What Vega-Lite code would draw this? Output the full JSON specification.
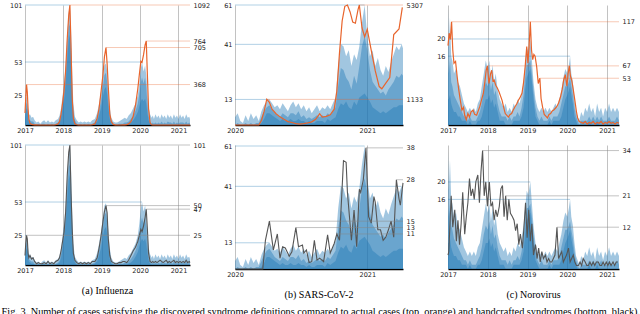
{
"$schema":"https://vega.github.io/schema/vega-lite/v6.json",
"padding":{"left":1,"top":2,"right":0,"bottom":0},
"config":{"view":{"stroke":null},
 "axis":{"labelFont":"DejaVu Sans","labelFontSize":6.5,"labelColor":"#222","ticks":false,"labelOverlap":false,"labelFlush":false,"domain":false,"grid":false},
 "axisX":{"domain":true,"domainColor":"#000","domainWidth":1.5,"grid":true,"gridColor":"#999","gridOpacity":0.6,"gridWidth":1,"labelPadding":2},
 "axisY":{"labelPadding":3}},
"datasets":{
"flu":[
{"t":2017.00,"s1":10,"s2":6,"s3":4,"a":110,"h":8},{"t":2017.02,"s1":18,"s2":14,"s3":10,"a":250,"h":18},{"t":2017.04,"s1":25,"s2":19,"s3":14,"a":368,"h":25},{"t":2017.06,"s1":21,"s2":17,"s3":13,"a":300,"h":22},{"t":2017.08,"s1":14,"s2":10,"s3":7,"a":150,"h":10},{"t":2017.10,"s1":8,"s2":5,"s3":3,"a":50,"h":6},{"t":2017.13,"s1":9,"s2":4,"s3":2,"a":15,"h":8},{"t":2017.17,"s1":6,"s2":3,"s3":1,"a":5,"h":5},{"t":2017.21,"s1":7,"s2":3,"s3":1,"a":3,"h":6},{"t":2017.25,"s1":4,"s2":1,"s3":0,"a":2,"h":3},{"t":2017.30,"s1":2,"s2":0,"s3":0,"a":1,"h":1},{"t":2017.35,"s1":3,"s2":1,"s3":0,"a":0,"h":2},{"t":2017.40,"s1":1,"s2":0,"s3":0,"a":0,"h":1},{"t":2017.45,"s1":3,"s2":1,"s3":0,"a":0,"h":1},{"t":2017.50,"s1":4,"s2":1,"s3":0,"a":0,"h":2},{"t":2017.55,"s1":2,"s2":0,"s3":0,"a":0,"h":1},{"t":2017.60,"s1":4,"s2":1,"s3":0,"a":0,"h":3},{"t":2017.65,"s1":2,"s2":0,"s3":0,"a":0,"h":1},{"t":2017.70,"s1":3,"s2":1,"s3":0,"a":0,"h":2},{"t":2017.75,"s1":2,"s2":0,"s3":0,"a":0,"h":1},{"t":2017.80,"s1":4,"s2":1,"s3":0,"a":2,"h":3},{"t":2017.86,"s1":5,"s2":2,"s3":1,"a":10,"h":4},{"t":2017.90,"s1":8,"s2":4,"s3":2,"a":30,"h":6},{"t":2017.94,"s1":14,"s2":9,"s3":6,"a":100,"h":12},{"t":2017.98,"s1":25,"s2":18,"s3":14,"a":200,"h":20},{"t":2018.02,"s1":35,"s2":28,"s3":22,"a":320,"h":28},{"t":2018.06,"s1":50,"s2":42,"s3":35,"a":500,"h":45},{"t":2018.10,"s1":75,"s2":65,"s3":55,"a":780,"h":75},{"t":2018.14,"s1":95,"s2":82,"s3":72,"a":1000,"h":95},{"t":2018.17,"s1":101,"s2":85,"s3":76,"a":1092,"h":101},{"t":2018.20,"s1":80,"s2":62,"s3":50,"a":700,"h":60},{"t":2018.23,"s1":45,"s2":32,"s3":24,"a":250,"h":30},{"t":2018.26,"s1":18,"s2":12,"s3":8,"a":60,"h":10},{"t":2018.30,"s1":7,"s2":4,"s3":2,"a":10,"h":4},{"t":2018.35,"s1":4,"s2":1,"s3":0,"a":2,"h":2},{"t":2018.40,"s1":2,"s2":0,"s3":0,"a":0,"h":1},{"t":2018.45,"s1":3,"s2":1,"s3":0,"a":0,"h":2},{"t":2018.50,"s1":2,"s2":0,"s3":0,"a":0,"h":1},{"t":2018.55,"s1":3,"s2":1,"s3":0,"a":0,"h":2},{"t":2018.60,"s1":2,"s2":0,"s3":0,"a":0,"h":1},{"t":2018.65,"s1":3,"s2":1,"s3":0,"a":0,"h":2},{"t":2018.70,"s1":2,"s2":0,"s3":0,"a":0,"h":1},{"t":2018.75,"s1":4,"s2":1,"s3":0,"a":2,"h":3},{"t":2018.82,"s1":5,"s2":2,"s3":1,"a":10,"h":3},{"t":2018.88,"s1":10,"s2":6,"s3":3,"a":60,"h":6},{"t":2018.93,"s1":18,"s2":12,"s3":8,"a":150,"h":14},{"t":2018.98,"s1":28,"s2":20,"s3":14,"a":300,"h":24},{"t":2019.03,"s1":40,"s2":32,"s3":24,"a":450,"h":36},{"t":2019.07,"s1":50,"s2":42,"s3":30,"a":620,"h":45},{"t":2019.11,"s1":52,"s2":44,"s3":32,"a":705,"h":50},{"t":2019.14,"s1":45,"s2":36,"s3":26,"a":560,"h":44},{"t":2019.17,"s1":30,"s2":22,"s3":15,"a":350,"h":22},{"t":2019.21,"s1":14,"s2":9,"s3":5,"a":100,"h":8},{"t":2019.25,"s1":6,"s2":3,"s3":1,"a":30,"h":3},{"t":2019.30,"s1":3,"s2":1,"s3":0,"a":5,"h":2},{"t":2019.35,"s1":2,"s2":0,"s3":0,"a":1,"h":1},{"t":2019.40,"s1":2,"s2":0,"s3":0,"a":0,"h":1},{"t":2019.45,"s1":3,"s2":1,"s3":0,"a":0,"h":2},{"t":2019.50,"s1":4,"s2":1,"s3":0,"a":0,"h":2},{"t":2019.55,"s1":5,"s2":1,"s3":0,"a":1,"h":3},{"t":2019.60,"s1":6,"s2":2,"s3":0,"a":2,"h":3},{"t":2019.65,"s1":5,"s2":2,"s3":0,"a":3,"h":2},{"t":2019.70,"s1":8,"s2":3,"s3":1,"a":10,"h":4},{"t":2019.76,"s1":10,"s2":5,"s3":2,"a":30,"h":8},{"t":2019.82,"s1":14,"s2":8,"s3":4,"a":80,"h":12},{"t":2019.88,"s1":18,"s2":12,"s3":7,"a":180,"h":15},{"t":2019.94,"s1":25,"s2":18,"s3":11,"a":330,"h":20},{"t":2019.98,"s1":35,"s2":26,"s3":16,"a":460,"h":25},{"t":2020.02,"s1":48,"s2":36,"s3":20,"a":580,"h":30},{"t":2020.05,"s1":53,"s2":40,"s3":22,"a":570,"h":28},{"t":2020.09,"s1":45,"s2":35,"s3":20,"a":640,"h":33},{"t":2020.13,"s1":50,"s2":40,"s3":22,"a":730,"h":40},{"t":2020.16,"s1":42,"s2":32,"s3":18,"a":764,"h":47},{"t":2020.19,"s1":28,"s2":18,"s3":10,"a":450,"h":30},{"t":2020.22,"s1":15,"s2":8,"s3":4,"a":150,"h":10},{"t":2020.26,"s1":9,"s2":3,"s3":1,"a":20,"h":3},{"t":2020.30,"s1":6,"s2":1,"s3":0,"a":2,"h":2},{"t":2020.33,"s1":8,"s2":2,"s3":0,"a":0,"h":3},{"t":2020.36,"s1":5,"s2":1,"s3":0,"a":0,"h":2},{"t":2020.40,"s1":9,"s2":2,"s3":0,"a":0,"h":3},{"t":2020.44,"s1":6,"s2":1,"s3":0,"a":0,"h":2},{"t":2020.48,"s1":8,"s2":2,"s3":0,"a":0,"h":3},{"t":2020.52,"s1":5,"s2":1,"s3":0,"a":0,"h":4},{"t":2020.56,"s1":9,"s2":3,"s3":0,"a":0,"h":3},{"t":2020.60,"s1":6,"s2":1,"s3":0,"a":0,"h":2},{"t":2020.64,"s1":8,"s2":2,"s3":0,"a":0,"h":3},{"t":2020.68,"s1":5,"s2":1,"s3":0,"a":0,"h":4},{"t":2020.72,"s1":9,"s2":3,"s3":0,"a":0,"h":2},{"t":2020.76,"s1":6,"s2":2,"s3":0,"a":0,"h":3},{"t":2020.80,"s1":8,"s2":2,"s3":0,"a":0,"h":2},{"t":2020.84,"s1":5,"s2":1,"s3":0,"a":0,"h":3},{"t":2020.88,"s1":9,"s2":3,"s3":0,"a":0,"h":4},{"t":2020.92,"s1":6,"s2":1,"s3":0,"a":0,"h":2},{"t":2020.96,"s1":8,"s2":2,"s3":0,"a":0,"h":3},{"t":2021.00,"s1":5,"s2":1,"s3":0,"a":0,"h":2},{"t":2021.04,"s1":9,"s2":2,"s3":0,"a":0,"h":3},{"t":2021.08,"s1":6,"s2":2,"s3":0,"a":0,"h":2},{"t":2021.12,"s1":8,"s2":2,"s3":0,"a":0,"h":3},{"t":2021.16,"s1":5,"s2":1,"s3":0,"a":0,"h":2},{"t":2021.20,"s1":9,"s2":3,"s3":0,"a":0,"h":4},{"t":2021.24,"s1":6,"s2":1,"s3":0,"a":0,"h":2},{"t":2021.28,"s1":7,"s2":2,"s3":0,"a":0,"h":3},{"t":2021.30,"s1":5,"s2":1,"s3":0,"a":0,"h":2}
],
"flu_rb":[{"v":101,"t":2017,"t2":2018.17},{"v":53,"t":2017,"t2":2020.05},{"v":25,"t":2017,"t2":2017.04}],
"flu_ro":[{"v":1092,"t":2018.17,"t2":2021.3},{"v":764,"t":2020.16,"t2":2021.3},{"v":705,"t":2019.11,"t2":2021.3},{"v":368,"t":2017.04,"t2":2021.3}],
"flu_rg":[{"v":101,"t":2018.17,"t2":2021.3},{"v":50,"t":2019.11,"t2":2021.3},{"v":47,"t":2020.16,"t2":2021.3},{"v":25,"t":2017.04,"t2":2021.3}],
"cov_s":[
{"t":2020.00,"s1":4,"s2":0,"s3":0},{"t":2020.02,"s1":6,"s2":1,"s3":0},{"t":2020.04,"s1":2,"s2":0,"s3":0},{"t":2020.06,"s1":1,"s2":0,"s3":0},{"t":2020.08,"s1":5,"s2":1,"s3":0},{"t":2020.10,"s1":2,"s2":0,"s3":0},{"t":2020.12,"s1":6,"s2":1,"s3":0},{"t":2020.14,"s1":3,"s2":0,"s3":0},{"t":2020.16,"s1":5,"s2":1,"s3":0},{"t":2020.18,"s1":2,"s2":1,"s3":0},{"t":2020.20,"s1":7,"s2":4,"s3":1},{"t":2020.22,"s1":10,"s2":7,"s3":3},{"t":2020.24,"s1":12,"s2":9,"s3":6},{"t":2020.26,"s1":13,"s2":10,"s3":6},{"t":2020.28,"s1":11,"s2":8,"s3":5},{"t":2020.30,"s1":9,"s2":6,"s3":4},{"t":2020.32,"s1":10,"s2":5,"s3":3},{"t":2020.34,"s1":8,"s2":4,"s3":2},{"t":2020.36,"s1":11,"s2":6,"s3":3},{"t":2020.38,"s1":9,"s2":5,"s3":2},{"t":2020.40,"s1":7,"s2":4,"s3":2},{"t":2020.42,"s1":10,"s2":6,"s3":3},{"t":2020.44,"s1":12,"s2":6,"s3":2},{"t":2020.46,"s1":9,"s2":5,"s3":2},{"t":2020.48,"s1":11,"s2":7,"s3":3},{"t":2020.50,"s1":8,"s2":4,"s3":2},{"t":2020.52,"s1":10,"s2":5,"s3":2},{"t":2020.54,"s1":7,"s2":3,"s3":1},{"t":2020.56,"s1":9,"s2":4,"s3":2},{"t":2020.58,"s1":6,"s2":3,"s3":1},{"t":2020.60,"s1":8,"s2":4,"s3":1},{"t":2020.62,"s1":10,"s2":5,"s3":2},{"t":2020.64,"s1":7,"s2":4,"s3":2},{"t":2020.66,"s1":9,"s2":5,"s3":2},{"t":2020.68,"s1":8,"s2":4,"s3":1},{"t":2020.70,"s1":10,"s2":6,"s3":3},{"t":2020.72,"s1":8,"s2":5,"s3":2},{"t":2020.74,"s1":11,"s2":7,"s3":3},{"t":2020.76,"s1":14,"s2":9,"s3":4},{"t":2020.78,"s1":30,"s2":20,"s3":8},{"t":2020.80,"s1":41,"s2":29,"s3":11},{"t":2020.82,"s1":40,"s2":28,"s3":10},{"t":2020.84,"s1":35,"s2":24,"s3":12},{"t":2020.86,"s1":38,"s2":22,"s3":9},{"t":2020.88,"s1":30,"s2":18,"s3":8},{"t":2020.90,"s1":36,"s2":25,"s3":12},{"t":2020.92,"s1":33,"s2":21,"s3":10},{"t":2020.94,"s1":40,"s2":30,"s3":14},{"t":2020.96,"s1":52,"s2":40,"s3":15},{"t":2020.98,"s1":61,"s2":45,"s3":16},{"t":2021.00,"s1":45,"s2":38,"s3":14},{"t":2021.02,"s1":35,"s2":28,"s3":12},{"t":2021.04,"s1":38,"s2":22,"s3":9},{"t":2021.06,"s1":30,"s2":20,"s3":8},{"t":2021.08,"s1":34,"s2":18,"s3":7},{"t":2021.10,"s1":28,"s2":16,"s3":6},{"t":2021.12,"s1":25,"s2":17,"s3":7},{"t":2021.14,"s1":30,"s2":15,"s3":6},{"t":2021.16,"s1":27,"s2":18,"s3":7},{"t":2021.18,"s1":32,"s2":20,"s3":8},{"t":2021.20,"s1":36,"s2":22,"s3":9},{"t":2021.22,"s1":40,"s2":25,"s3":9},{"t":2021.24,"s1":38,"s2":24,"s3":10},{"t":2021.26,"s1":41,"s2":26,"s3":10},{"t":2021.27,"s1":39,"s2":25,"s3":10}
],
"cov_a":[{"t":2020.00,"a":0},{"t":2020.18,"a":0},{"t":2020.20,"a":200},{"t":2020.22,"a":600},{"t":2020.24,"a":1133},{"t":2020.26,"a":1000},{"t":2020.28,"a":700},{"t":2020.31,"a":500},{"t":2020.34,"a":360},{"t":2020.37,"a":250},{"t":2020.40,"a":150},{"t":2020.43,"a":110},{"t":2020.46,"a":60},{"t":2020.49,"a":40},{"t":2020.52,"a":60},{"t":2020.55,"a":90},{"t":2020.58,"a":140},{"t":2020.61,"a":250},{"t":2020.64,"a":500},{"t":2020.66,"a":350},{"t":2020.69,"a":380},{"t":2020.72,"a":450},{"t":2020.75,"a":700},{"t":2020.77,"a":1500},{"t":2020.79,"a":3200},{"t":2020.81,"a":4600},{"t":2020.83,"a":5250},{"t":2020.85,"a":5307},{"t":2020.87,"a":5000},{"t":2020.89,"a":4550},{"t":2020.91,"a":4500},{"t":2020.93,"a":5100},{"t":2020.94,"a":5307},{"t":2020.96,"a":4300},{"t":2020.98,"a":3900},{"t":2021.00,"a":4230},{"t":2021.03,"a":3300},{"t":2021.06,"a":2400},{"t":2021.09,"a":1700},{"t":2021.11,"a":1600},{"t":2021.14,"a":1850},{"t":2021.17,"a":2100},{"t":2021.20,"a":4000},{"t":2021.24,"a":4250},{"t":2021.265,"a":5200}],
"cov_h":[{"t":2020.00,"h":0},{"t":2020.21,"h":0},{"t":2020.23,"h":9},{"t":2020.26,"h":15},{"t":2020.29,"h":6},{"t":2020.32,"h":11},{"t":2020.34,"h":3.4},{"t":2020.36,"h":7},{"t":2020.38,"h":6.6},{"t":2020.41,"h":4},{"t":2020.43,"h":5.4},{"t":2020.46,"h":13},{"t":2020.48,"h":7},{"t":2020.51,"h":7.5},{"t":2020.52,"h":5},{"t":2020.54,"h":6},{"t":2020.56,"h":2},{"t":2020.58,"h":2.3},{"t":2020.60,"h":9},{"t":2020.62,"h":2.8},{"t":2020.64,"h":3.4},{"t":2020.67,"h":2.3},{"t":2020.70,"h":10.7},{"t":2020.72,"h":5},{"t":2020.75,"h":8},{"t":2020.77,"h":11},{"t":2020.79,"h":9},{"t":2020.82,"h":34},{"t":2020.84,"h":33.5},{"t":2020.85,"h":24},{"t":2020.88,"h":9},{"t":2020.90,"h":18.5},{"t":2020.92,"h":7},{"t":2020.94,"h":25},{"t":2020.95,"h":24},{"t":2020.97,"h":28},{"t":2020.99,"h":38},{"t":2021.01,"h":16.4},{"t":2021.03,"h":14.4},{"t":2021.05,"h":22.7},{"t":2021.06,"h":21},{"t":2021.08,"h":12.3},{"t":2021.10,"h":12.3},{"t":2021.12,"h":9},{"t":2021.14,"h":10},{"t":2021.16,"h":12.3},{"t":2021.18,"h":15},{"t":2021.20,"h":10},{"t":2021.22,"h":28},{"t":2021.24,"h":22},{"t":2021.25,"h":20},{"t":2021.27,"h":27}],
"cov_rb":[{"v":61,"t":2020,"t2":2020.98},{"v":41,"t":2020,"t2":2021.26},{"v":13,"t":2020,"t2":2020.26}],
"cov_ro":[{"v":5307,"t":2020.94,"t2":2021.27},{"v":1133,"t":2020.24,"t2":2021.27}],
"cov_rg":[{"v":38,"t":2020.99,"t2":2021.27},{"v":28,"t":2021.22,"t2":2021.27},{"v":15,"t":2020.26,"t2":2021.27},{"v":13,"t":2020.46,"t2":2021.27},{"v":11,"t":2020.77,"t2":2021.27}],
"noro_s":[
{"t":2017.00,"s1":27,"s2":14,"s3":6},{"t":2017.02,"s1":18,"s2":12,"s3":6},{"t":2017.05,"s1":25,"s2":15,"s3":7},{"t":2017.08,"s1":16,"s2":10,"s3":5},{"t":2017.11,"s1":15,"s2":9,"s3":4},{"t":2017.15,"s1":12,"s2":7,"s3":3},{"t":2017.20,"s1":13,"s2":6,"s3":3},{"t":2017.25,"s1":10,"s2":5,"s3":2},{"t":2017.30,"s1":9,"s2":4,"s3":2},{"t":2017.35,"s1":7,"s2":3,"s3":1},{"t":2017.40,"s1":5,"s2":2,"s3":1},{"t":2017.45,"s1":4,"s2":2,"s3":1},{"t":2017.50,"s1":3,"s2":1,"s3":0},{"t":2017.55,"s1":4,"s2":2,"s3":1},{"t":2017.60,"s1":3,"s2":1,"s3":0},{"t":2017.65,"s1":4,"s2":1,"s3":0},{"t":2017.70,"s1":3,"s2":1,"s3":0},{"t":2017.75,"s1":5,"s2":2,"s3":1},{"t":2017.80,"s1":6,"s2":3,"s3":1},{"t":2017.85,"s1":9,"s2":5,"s3":2},{"t":2017.90,"s1":12,"s2":8,"s3":4},{"t":2017.95,"s1":15,"s2":10,"s3":6},{"t":2018.00,"s1":13,"s2":9,"s3":6},{"t":2018.04,"s1":15,"s2":11,"s3":7},{"t":2018.08,"s1":11,"s2":8,"s3":5},{"t":2018.12,"s1":14,"s2":10,"s3":6},{"t":2018.16,"s1":10,"s2":7,"s3":4},{"t":2018.20,"s1":12,"s2":8,"s3":5},{"t":2018.25,"s1":8,"s2":5,"s3":3},{"t":2018.30,"s1":6,"s2":3,"s3":1},{"t":2018.35,"s1":5,"s2":2,"s3":1},{"t":2018.40,"s1":4,"s2":2,"s3":1},{"t":2018.45,"s1":5,"s2":2,"s3":0},{"t":2018.50,"s1":3,"s2":1,"s3":0},{"t":2018.55,"s1":4,"s2":2,"s3":0},{"t":2018.60,"s1":3,"s2":1,"s3":0},{"t":2018.65,"s1":5,"s2":2,"s3":1},{"t":2018.70,"s1":4,"s2":2,"s3":1},{"t":2018.75,"s1":6,"s2":3,"s3":1},{"t":2018.80,"s1":5,"s2":2,"s3":1},{"t":2018.85,"s1":7,"s2":4,"s3":2},{"t":2018.90,"s1":10,"s2":7,"s3":4},{"t":2018.94,"s1":14,"s2":11,"s3":8},{"t":2018.98,"s1":18,"s2":14,"s3":11},{"t":2019.02,"s1":17,"s2":14,"s3":12},{"t":2019.07,"s1":20,"s2":15,"s3":13},{"t":2019.11,"s1":15,"s2":12,"s3":10},{"t":2019.15,"s1":10,"s2":8,"s3":6},{"t":2019.20,"s1":6,"s2":4,"s3":2},{"t":2019.25,"s1":4,"s2":2,"s3":1},{"t":2019.30,"s1":3,"s2":1,"s3":0},{"t":2019.35,"s1":4,"s2":2,"s3":0},{"t":2019.40,"s1":3,"s2":1,"s3":0},{"t":2019.45,"s1":4,"s2":1,"s3":0},{"t":2019.50,"s1":3,"s2":1,"s3":0},{"t":2019.55,"s1":4,"s2":2,"s3":1},{"t":2019.60,"s1":3,"s2":1,"s3":0},{"t":2019.65,"s1":4,"s2":2,"s3":1},{"t":2019.70,"s1":5,"s2":2,"s3":1},{"t":2019.75,"s1":4,"s2":2,"s3":1},{"t":2019.80,"s1":6,"s2":3,"s3":1},{"t":2019.85,"s1":8,"s2":5,"s3":2},{"t":2019.90,"s1":11,"s2":7,"s3":4},{"t":2019.95,"s1":13,"s2":9,"s3":6},{"t":2020.00,"s1":12,"s2":9,"s3":7},{"t":2020.04,"s1":14,"s2":10,"s3":8},{"t":2020.07,"s1":16,"s2":11,"s3":9},{"t":2020.10,"s1":12,"s2":9,"s3":7},{"t":2020.14,"s1":10,"s2":7,"s3":5},{"t":2020.18,"s1":6,"s2":4,"s3":2},{"t":2020.22,"s1":3,"s2":2,"s3":1},{"t":2020.26,"s1":2,"s2":1,"s3":0},{"t":2020.30,"s1":1,"s2":0,"s3":0},{"t":2020.35,"s1":3,"s2":1,"s3":0},{"t":2020.40,"s1":2,"s2":1,"s3":0},{"t":2020.45,"s1":4,"s2":1,"s3":0},{"t":2020.50,"s1":3,"s2":1,"s3":0},{"t":2020.55,"s1":5,"s2":2,"s3":1},{"t":2020.60,"s1":3,"s2":1,"s3":0},{"t":2020.65,"s1":4,"s2":2,"s3":0},{"t":2020.70,"s1":2,"s2":1,"s3":0},{"t":2020.75,"s1":5,"s2":2,"s3":1},{"t":2020.80,"s1":3,"s2":1,"s3":0},{"t":2020.85,"s1":4,"s2":2,"s3":0},{"t":2020.90,"s1":2,"s2":1,"s3":0},{"t":2020.95,"s1":4,"s2":1,"s3":0},{"t":2021.00,"s1":3,"s2":1,"s3":0},{"t":2021.05,"s1":5,"s2":2,"s3":0},{"t":2021.10,"s1":3,"s2":1,"s3":0},{"t":2021.15,"s1":4,"s2":1,"s3":0},{"t":2021.20,"s1":3,"s2":1,"s3":0},{"t":2021.25,"s1":4,"s2":2,"s3":0},{"t":2021.30,"s1":3,"s2":1,"s3":0}
],
"noro_a":[{"t":2017.00,"a":90},{"t":2017.03,"a":104},{"t":2017.06,"a":97},{"t":2017.09,"a":117},{"t":2017.12,"a":85},{"t":2017.15,"a":70},{"t":2017.19,"a":72},{"t":2017.23,"a":55},{"t":2017.27,"a":40},{"t":2017.31,"a":28},{"t":2017.35,"a":17},{"t":2017.39,"a":20},{"t":2017.42,"a":11},{"t":2017.46,"a":6},{"t":2017.50,"a":13},{"t":2017.54,"a":9},{"t":2017.58,"a":15},{"t":2017.63,"a":17},{"t":2017.67,"a":12},{"t":2017.72,"a":11},{"t":2017.76,"a":16},{"t":2017.80,"a":21},{"t":2017.84,"a":28},{"t":2017.89,"a":36},{"t":2017.93,"a":50},{"t":2017.96,"a":62},{"t":2017.99,"a":67},{"t":2018.03,"a":47},{"t":2018.07,"a":58},{"t":2018.10,"a":62},{"t":2018.13,"a":50},{"t":2018.16,"a":51},{"t":2018.20,"a":45},{"t":2018.24,"a":42},{"t":2018.28,"a":38},{"t":2018.32,"a":33},{"t":2018.36,"a":28},{"t":2018.40,"a":20},{"t":2018.44,"a":13},{"t":2018.48,"a":11},{"t":2018.52,"a":9},{"t":2018.56,"a":12},{"t":2018.60,"a":13},{"t":2018.64,"a":17},{"t":2018.69,"a":21},{"t":2018.73,"a":24},{"t":2018.77,"a":28},{"t":2018.81,"a":31},{"t":2018.86,"a":36},{"t":2018.90,"a":48},{"t":2018.94,"a":66},{"t":2018.98,"a":89},{"t":2019.01,"a":70},{"t":2019.04,"a":90},{"t":2019.07,"a":117},{"t":2019.10,"a":85},{"t":2019.13,"a":74},{"t":2019.16,"a":80},{"t":2019.19,"a":78},{"t":2019.23,"a":66},{"t":2019.27,"a":47},{"t":2019.31,"a":53},{"t":2019.34,"a":30},{"t":2019.38,"a":20},{"t":2019.42,"a":12},{"t":2019.46,"a":10},{"t":2019.50,"a":8},{"t":2019.54,"a":12},{"t":2019.58,"a":13},{"t":2019.62,"a":16},{"t":2019.66,"a":17},{"t":2019.70,"a":19},{"t":2019.74,"a":21},{"t":2019.78,"a":25},{"t":2019.83,"a":32},{"t":2019.87,"a":40},{"t":2019.91,"a":51},{"t":2019.95,"a":57},{"t":2019.99,"a":44},{"t":2020.02,"a":58},{"t":2020.05,"a":67},{"t":2020.08,"a":55},{"t":2020.11,"a":51},{"t":2020.15,"a":40},{"t":2020.19,"a":28},{"t":2020.23,"a":15},{"t":2020.26,"a":8},{"t":2020.30,"a":4},{"t":2020.35,"a":3},{"t":2020.40,"a":2},{"t":2020.45,"a":4},{"t":2020.50,"a":1},{"t":2020.55,"a":3},{"t":2020.60,"a":2},{"t":2020.65,"a":4},{"t":2020.70,"a":1},{"t":2020.75,"a":3},{"t":2020.80,"a":2},{"t":2020.85,"a":4},{"t":2020.90,"a":1},{"t":2020.95,"a":3},{"t":2021.00,"a":2},{"t":2021.05,"a":4},{"t":2021.10,"a":2},{"t":2021.15,"a":3},{"t":2021.20,"a":1},{"t":2021.25,"a":3},{"t":2021.30,"a":2}],
"noro_h":[{"t":2017.00,"h":4},{"t":2017.02,"h":5},{"t":2017.08,"h":21},{"t":2017.12,"h":12},{"t":2017.17,"h":17},{"t":2017.21,"h":8},{"t":2017.25,"h":14},{"t":2017.29,"h":7},{"t":2017.33,"h":13},{"t":2017.37,"h":22},{"t":2017.42,"h":10},{"t":2017.46,"h":15},{"t":2017.50,"h":19},{"t":2017.54,"h":26},{"t":2017.58,"h":21},{"t":2017.62,"h":23},{"t":2017.66,"h":20},{"t":2017.70,"h":25},{"t":2017.75,"h":27},{"t":2017.79,"h":19},{"t":2017.83,"h":28},{"t":2017.87,"h":34},{"t":2017.91,"h":21},{"t":2017.95,"h":25},{"t":2017.99,"h":18},{"t":2018.04,"h":25},{"t":2018.08,"h":18},{"t":2018.12,"h":19},{"t":2018.16,"h":14},{"t":2018.20,"h":17},{"t":2018.24,"h":15},{"t":2018.29,"h":18},{"t":2018.33,"h":23},{"t":2018.37,"h":24},{"t":2018.41,"h":15},{"t":2018.45,"h":21},{"t":2018.49,"h":14},{"t":2018.53,"h":20},{"t":2018.57,"h":16},{"t":2018.62,"h":15},{"t":2018.66,"h":14},{"t":2018.70,"h":11},{"t":2018.74,"h":13},{"t":2018.78,"h":7},{"t":2018.82,"h":10},{"t":2018.87,"h":6},{"t":2018.91,"h":12},{"t":2018.95,"h":19},{"t":2018.99,"h":9},{"t":2019.03,"h":17},{"t":2019.07,"h":8},{"t":2019.11,"h":13},{"t":2019.15,"h":4},{"t":2019.20,"h":7},{"t":2019.24,"h":3},{"t":2019.28,"h":6},{"t":2019.32,"h":2},{"t":2019.36,"h":5},{"t":2019.40,"h":3},{"t":2019.45,"h":4},{"t":2019.49,"h":2},{"t":2019.53,"h":3},{"t":2019.57,"h":2},{"t":2019.61,"h":2},{"t":2019.65,"h":3},{"t":2019.69,"h":4},{"t":2019.74,"h":12},{"t":2019.78,"h":3},{"t":2019.82,"h":4},{"t":2019.86,"h":5},{"t":2019.90,"h":2},{"t":2019.94,"h":3},{"t":2019.98,"h":4},{"t":2020.03,"h":6},{"t":2020.07,"h":2},{"t":2020.11,"h":3},{"t":2020.15,"h":4},{"t":2020.19,"h":2},{"t":2020.23,"h":1},{"t":2020.28,"h":1},{"t":2020.32,"h":2},{"t":2020.36,"h":1},{"t":2020.40,"h":3},{"t":2020.45,"h":2},{"t":2020.49,"h":1},{"t":2020.53,"h":1},{"t":2020.57,"h":2},{"t":2020.61,"h":1},{"t":2020.65,"h":2},{"t":2020.69,"h":1},{"t":2020.73,"h":2},{"t":2020.78,"h":2},{"t":2020.82,"h":1},{"t":2020.86,"h":1},{"t":2020.90,"h":2},{"t":2020.94,"h":1},{"t":2020.98,"h":2},{"t":2021.02,"h":1},{"t":2021.06,"h":2},{"t":2021.10,"h":1},{"t":2021.15,"h":2},{"t":2021.19,"h":1},{"t":2021.23,"h":2},{"t":2021.27,"h":2}],
"noro_rb":[{"v":20,"t":2017,"t2":2019.07},{"v":16,"t":2017,"t2":2020.07}],
"noro_ro":[{"v":117,"t":2017.09,"t2":2021.3},{"v":67,"t":2017.99,"t2":2021.3},{"v":53,"t":2019.31,"t2":2021.3}],
"noro_rg":[{"v":34,"t":2017.87,"t2":2021.3},{"v":21,"t":2018.45,"t2":2021.3},{"v":12,"t":2019.74,"t2":2021.3}]
},
"columns":3,
"spacing":{"row":20,"column":45},
"bounds":"flush",
"concat":[
 {"width":165,"height":120,
  "encoding":{"x":{"field":"t","type":"quantitative","title":null,"scale":{"domain":[2017,2021.3],"nice":false,"zero":false},"axis":{"values":[2017,2018,2019,2020,2021],"format":"d"}}},
  "layer":[
   {"layer":[
    {"data":{"name":"flu"},"transform":[{"fold":["s1","s2","s3"],"as":["k","val"]}],"mark":{"type":"area","color":"#1f77b4","opacity":0.42},"encoding":{"y":{"field":"val","type":"quantitative","stack":null,"title":null,"scale":{"domain":[0,101],"nice":false},"axis":{"values":[25,53,101],"orient":"left","format":"d"}},"detail":{"field":"k"}}},
    {"data":{"name":"flu_rb"},"mark":{"type":"rule","color":"#1f77b4","opacity":0.35,"strokeWidth":1},"encoding":{"x2":{"field":"t2"},"y":{"field":"v","type":"quantitative","title":null,"axis":{"values":[25,53,101],"orient":"left","format":"d"}}}}
   ]},
   {"layer":[
    {"data":{"name":"flu"},"mark":{"type":"line","color":"#e8642c","strokeWidth":1.2},"encoding":{"y":{"field":"a","type":"quantitative","title":null,"scale":{"domain":[0,1092],"nice":false},"axis":{"values":[368,705,764,1092],"orient":"right","format":"d"}}}},
    {"data":{"name":"flu_ro"},"mark":{"type":"rule","color":"#e8642c","opacity":0.35,"strokeWidth":1},"encoding":{"x2":{"field":"t2"},"y":{"field":"v","type":"quantitative","title":null,"axis":{"values":[368,705,764,1092],"orient":"right","format":"d"}}}}
   ]}
  ],
  "resolve":{"scale":{"y":"independent"}}},
 {"width":168,"height":120,
  "encoding":{"x":{"field":"t","type":"quantitative","title":null,"scale":{"domain":[2020,2021.27],"nice":false,"zero":false},"axis":{"values":[2020,2021],"format":"d"}}},
  "layer":[
   {"layer":[
    {"data":{"name":"cov_s"},"transform":[{"fold":["s1","s2","s3"],"as":["k","val"]}],"mark":{"type":"area","color":"#1f77b4","opacity":0.42},"encoding":{"y":{"field":"val","type":"quantitative","stack":null,"title":null,"scale":{"domain":[0,61],"nice":false},"axis":{"values":[13,41,61],"orient":"left","format":"d"}},"detail":{"field":"k"}}},
    {"data":{"name":"cov_rb"},"mark":{"type":"rule","color":"#1f77b4","opacity":0.35,"strokeWidth":1},"encoding":{"x2":{"field":"t2"},"y":{"field":"v","type":"quantitative","title":null,"axis":{"values":[13,41,61],"orient":"left","format":"d"}}}}
   ]},
   {"layer":[
    {"data":{"name":"cov_a"},"mark":{"type":"line","color":"#e8642c","strokeWidth":1.2},"encoding":{"y":{"field":"a","type":"quantitative","title":null,"scale":{"domain":[0,5307],"nice":false},"axis":{"values":[1133,5307],"orient":"right","format":"d"}}}},
    {"data":{"name":"cov_ro"},"mark":{"type":"rule","color":"#e8642c","opacity":0.35,"strokeWidth":1},"encoding":{"x2":{"field":"t2"},"y":{"field":"v","type":"quantitative","title":null,"axis":{"values":[1133,5307],"orient":"right","format":"d"}}}}
   ]}
  ],
  "resolve":{"scale":{"y":"independent"}}},
 {"width":171,"height":120,
  "encoding":{"x":{"field":"t","type":"quantitative","title":null,"scale":{"domain":[2017,2021.3],"nice":false,"zero":false},"axis":{"values":[2017,2018,2019,2020,2021],"format":"d"}}},
  "layer":[
   {"layer":[
    {"data":{"name":"noro_s"},"transform":[{"fold":["s1","s2","s3"],"as":["k","val"]}],"mark":{"type":"area","color":"#1f77b4","opacity":0.42},"encoding":{"y":{"field":"val","type":"quantitative","stack":null,"title":null,"scale":{"domain":[0,27.9],"nice":false},"axis":{"values":[16,20],"orient":"left","format":"d"}},"detail":{"field":"k"}}},
    {"data":{"name":"noro_rb"},"mark":{"type":"rule","color":"#1f77b4","opacity":0.35,"strokeWidth":1},"encoding":{"x2":{"field":"t2"},"y":{"field":"v","type":"quantitative","title":null,"axis":{"values":[16,20],"orient":"left","format":"d"}}}}
   ]},
   {"layer":[
    {"data":{"name":"noro_a"},"mark":{"type":"line","color":"#e8642c","strokeWidth":1.2},"encoding":{"y":{"field":"a","type":"quantitative","title":null,"scale":{"domain":[0,136],"nice":false},"axis":{"values":[53,67,117],"orient":"right","format":"d"}}}},
    {"data":{"name":"noro_ro"},"mark":{"type":"rule","color":"#e8642c","opacity":0.35,"strokeWidth":1},"encoding":{"x2":{"field":"t2"},"y":{"field":"v","type":"quantitative","title":null,"axis":{"values":[53,67,117],"orient":"right","format":"d"}}}}
   ]}
  ],
  "resolve":{"scale":{"y":"independent"}}},
 {"width":165,"height":120,
  "title":{"text":"(a) Influenza","orient":"bottom","font":"Liberation Serif","fontSize":10,"fontWeight":"normal","color":"#000","offset":12},
  "encoding":{"x":{"field":"t","type":"quantitative","title":null,"scale":{"domain":[2017,2021.3],"nice":false,"zero":false},"axis":{"values":[2017,2018,2019,2020,2021],"format":"d"}}},
  "layer":[
   {"layer":[
    {"data":{"name":"flu"},"transform":[{"fold":["s1","s2","s3"],"as":["k","val"]}],"mark":{"type":"area","color":"#1f77b4","opacity":0.42},"encoding":{"y":{"field":"val","type":"quantitative","stack":null,"title":null,"scale":{"domain":[0,101],"nice":false},"axis":{"values":[25,53,101],"orient":"left","format":"d"}},"detail":{"field":"k"}}},
    {"data":{"name":"flu_rb"},"mark":{"type":"rule","color":"#1f77b4","opacity":0.35,"strokeWidth":1},"encoding":{"x2":{"field":"t2"},"y":{"field":"v","type":"quantitative","title":null,"axis":{"values":[25,53,101],"orient":"left","format":"d"}}}}
   ]},
   {"layer":[
    {"data":{"name":"flu"},"mark":{"type":"line","color":"#555555","strokeWidth":1.1},"encoding":{"y":{"field":"h","type":"quantitative","title":null,"scale":{"domain":[0,101],"nice":false},"axis":{"values":[25,47,50,101],"orient":"right","format":"d"}}}},
    {"data":{"name":"flu_rg"},"mark":{"type":"rule","color":"#888888","opacity":0.5,"strokeWidth":1},"encoding":{"x2":{"field":"t2"},"y":{"field":"v","type":"quantitative","title":null,"axis":{"values":[25,47,50,101],"orient":"right","format":"d"}}}}
   ]}
  ],
  "resolve":{"scale":{"y":"independent"}}},
 {"width":168,"height":124,
  "title":{"text":"(b) SARS-CoV-2","orient":"bottom","font":"Liberation Serif","fontSize":10,"fontWeight":"normal","color":"#000","offset":12},
  "encoding":{"x":{"field":"t","type":"quantitative","title":null,"scale":{"domain":[2020,2021.27],"nice":false,"zero":false},"axis":{"values":[2020,2021],"format":"d"}}},
  "layer":[
   {"layer":[
    {"data":{"name":"cov_s"},"transform":[{"fold":["s1","s2","s3"],"as":["k","val"]}],"mark":{"type":"area","color":"#1f77b4","opacity":0.42},"encoding":{"y":{"field":"val","type":"quantitative","stack":null,"title":null,"scale":{"domain":[0,61.5],"nice":false},"axis":{"values":[13,41,61],"orient":"left","format":"d"}},"detail":{"field":"k"}}},
    {"data":{"name":"cov_rb"},"mark":{"type":"rule","color":"#1f77b4","opacity":0.35,"strokeWidth":1},"encoding":{"x2":{"field":"t2"},"y":{"field":"v","type":"quantitative","title":null,"axis":{"values":[13,41,61],"orient":"left","format":"d"}}}}
   ]},
   {"layer":[
    {"data":{"name":"cov_h"},"mark":{"type":"line","color":"#555555","strokeWidth":1.1},"encoding":{"y":{"field":"h","type":"quantitative","title":null,"scale":{"domain":[0,38.9],"nice":false},"axis":{"values":[11,13,15,28,38],"orient":"right","format":"d"}}}},
    {"data":{"name":"cov_rg"},"mark":{"type":"rule","color":"#888888","opacity":0.5,"strokeWidth":1},"encoding":{"x2":{"field":"t2"},"y":{"field":"v","type":"quantitative","title":null,"axis":{"values":[11,13,15,28,38],"orient":"right","format":"d"}}}}
   ]}
  ],
  "resolve":{"scale":{"y":"independent"}}},
 {"width":171,"height":124,
  "title":{"text":"(c) Norovirus","orient":"bottom","font":"Liberation Serif","fontSize":10,"fontWeight":"normal","color":"#000","offset":12},
  "encoding":{"x":{"field":"t","type":"quantitative","title":null,"scale":{"domain":[2017,2021.3],"nice":false,"zero":false},"axis":{"values":[2017,2018,2019,2020,2021],"format":"d"}}},
  "layer":[
   {"layer":[
    {"data":{"name":"noro_s"},"transform":[{"fold":["s1","s2","s3"],"as":["k","val"]}],"mark":{"type":"area","color":"#1f77b4","opacity":0.42},"encoding":{"y":{"field":"val","type":"quantitative","stack":null,"title":null,"scale":{"domain":[0,28.5],"nice":false},"axis":{"values":[16,20],"orient":"left","format":"d"}},"detail":{"field":"k"}}},
    {"data":{"name":"noro_rb"},"mark":{"type":"rule","color":"#1f77b4","opacity":0.35,"strokeWidth":1},"encoding":{"x2":{"field":"t2"},"y":{"field":"v","type":"quantitative","title":null,"axis":{"values":[16,20],"orient":"left","format":"d"}}}}
   ]},
   {"layer":[
    {"data":{"name":"noro_h"},"mark":{"type":"line","color":"#555555","strokeWidth":1.1},"encoding":{"y":{"field":"h","type":"quantitative","title":null,"scale":{"domain":[0,35.6],"nice":false},"axis":{"values":[12,21,34],"orient":"right","format":"d"}}}},
    {"data":{"name":"noro_rg"},"mark":{"type":"rule","color":"#888888","opacity":0.5,"strokeWidth":1},"encoding":{"x2":{"field":"t2"},"y":{"field":"v","type":"quantitative","title":null,"axis":{"values":[12,21,34],"orient":"right","format":"d"}}}}
   ]}
  ],
  "resolve":{"scale":{"y":"independent"}}}
],
"title":{"text":"Fig. 3.  Number of cases satisfying the discovered syndrome definitions compared to actual cases (top, orange) and handcrafted syndromes (bottom, black).","orient":"bottom","anchor":"start","font":"Liberation Serif","fontSize":10.3,"fontWeight":"normal","color":"#000","offset":7,"dx":-8}
}
